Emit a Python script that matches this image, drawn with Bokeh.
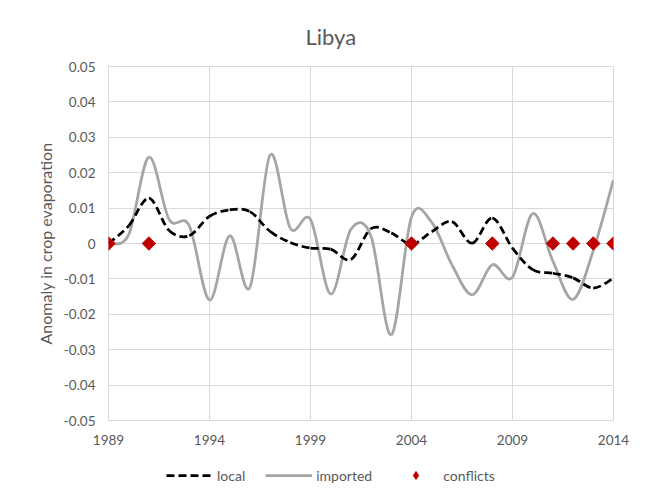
from bokeh.plotting import figure
from bokeh.layouts import column
from bokeh.models import (FixedTicker, CustomJSTickFormatter, Legend, LegendItem,
                          ColumnDataSource)
from bokeh.embed import file_html
from bokeh.resources import INLINE

# ---------------- data ----------------
years = list(range(1989, 2015))
local = [0.0, 0.005, 0.0128, 0.0037, 0.0022, 0.0077, 0.0095, 0.009, 0.0034, 0.0003,
         -0.0013, -0.0016, -0.0045, 0.0042, 0.003, -0.0002, 0.0033, 0.0062, 0.0001,
         0.0072, -0.0013, -0.0074, -0.0084, -0.0097, -0.0126, -0.0098]
imported = [0.0, 0.0025, 0.0244, 0.0068, 0.005, -0.016, 0.0022, -0.0124, 0.025, 0.0043,
            0.0068, -0.0143, 0.004, 0.002, -0.0258, 0.0075, 0.006, -0.006, -0.0145,
            -0.006, -0.0095, 0.0085, -0.005, -0.0158, -0.002, 0.018]
conflict_years = [1989, 1991, 2004, 2008, 2011, 2012, 2013, 2014]
conflict_values = [0, 0, 0, 0, 0, 0, 0, 0]
x_ticks = [1989, 1994, 1999, 2004, 2009, 2014]
y_ticks = [-0.05, -0.04, -0.03, -0.02, -0.01, 0.0, 0.01, 0.02, 0.03, 0.04, 0.05]
legend_labels = ["local", "imported", "conflicts"]

TEXT = "#595959"
FONT = "Lato"
NAN = float("nan")


def smooth_segments(xs, ys, k=1.0 / 6.0):
    """Bezier control points (Excel-like smoothed line) built from the data."""
    n = len(xs)
    d = dict(x0=[], y0=[], x1=[], y1=[], cx0=[], cy0=[], cx1=[], cy1=[])
    for i in range(n - 1):
        a = max(i - 1, 0)
        b = min(i + 2, n - 1)
        d["x0"].append(xs[i]); d["y0"].append(ys[i])
        d["x1"].append(xs[i + 1]); d["y1"].append(ys[i + 1])
        d["cx0"].append(xs[i] + (xs[i + 1] - xs[a]) * k)
        d["cy0"].append(ys[i] + (ys[i + 1] - ys[a]) * k)
        d["cx1"].append(xs[i + 1] - (xs[b] - xs[i]) * k)
        d["cy1"].append(ys[i + 1] - (ys[b] - ys[i]) * k)
    return ColumnDataSource(d)


p = figure(width=640, height=456, x_range=(1989, 2014), y_range=(-0.05, 0.05),
           output_backend="svg", toolbar_location=None,
           min_border_left=108, min_border_right=27, min_border_top=66,
           min_border_bottom=36)

p.background_fill_color = "white"
p.border_fill_color = "white"
p.outline_line_color = "#d9d9d9"

# title
p.title.text = "Libya"
p.title.align = "left"
p.title.offset = 197
p.title.text_font = FONT
p.title.text_font_size = "22px"
p.title.text_font_style = "normal"
p.title.text_color = TEXT
p.title.standoff = 33

# axes
p.xaxis.ticker = FixedTicker(ticks=x_ticks)
p.yaxis.ticker = FixedTicker(ticks=y_ticks)
p.yaxis.formatter = CustomJSTickFormatter(
    code="return Math.abs(tick) < 1e-9 ? '0' : tick.toFixed(2);")
for ax in (p.xaxis, p.yaxis):
    ax.axis_line_color = None
    ax.major_tick_line_color = None
    ax.minor_tick_line_color = None
    ax.major_tick_in = 0
    ax.major_tick_out = 0
    ax.major_label_text_font = FONT
    ax.major_label_text_font_size = "13.5px"
    ax.major_label_text_color = TEXT
p.xaxis.major_label_standoff = 14
p.yaxis.major_label_standoff = 13
p.yaxis.axis_label = "Anomaly in crop evaporation"
p.yaxis.axis_label_text_font = FONT
p.yaxis.axis_label_text_font_size = "16px"
p.yaxis.axis_label_text_font_style = "normal"
p.yaxis.axis_label_text_color = TEXT
p.yaxis.axis_label_standoff = 6

# grid
p.xgrid.ticker = FixedTicker(ticks=x_ticks)
p.ygrid.ticker = FixedTicker(ticks=y_ticks)
p.xgrid.grid_line_color = "#d9d9d9"
p.ygrid.grid_line_color = "#d9d9d9"

# smoothed lines
imp_src = smooth_segments(years, imported)
loc_src = smooth_segments(years, local)
p.bezier(x0="x0", y0="y0", x1="x1", y1="y1", cx0="cx0", cy0="cy0", cx1="cx1",
         cy1="cy1", source=imp_src, line_color="#a5a5a5", line_width=2.75)
p.bezier(x0="x0", y0="y0", x1="x1", y1="y1", cx0="cx0", cy0="cy0", cx1="cx1",
         cy1="cy1", source=loc_src, line_color="black", line_width=2.75,
         line_dash="8 4")

p.scatter(conflict_years, conflict_values, marker="square", size=9.5,
          angle=0.785398, fill_color="#c00000", line_color="#c00000")

# ---------------- legend strip ----------------
lg = figure(width=640, height=44, x_range=(0, 1), y_range=(0, 1),
            output_backend="svg", toolbar_location=None,
            x_axis_type=None, y_axis_type=None,
            min_border_left=0, min_border_right=0, min_border_top=0,
            min_border_bottom=0)
lg.outline_line_color = None
lg.background_fill_color = "white"
lg.border_fill_color = "white"
lg.xgrid.visible = False
lg.ygrid.visible = False

r_local = lg.line(x=[NAN], y=[NAN], line_color="black", line_width=2.75,
                  line_dash="8 4")
r_imp = lg.line(x=[NAN], y=[NAN], line_color="#a5a5a5", line_width=2.75)
r_conf = lg.scatter(x=[NAN], y=[NAN], marker="diamond", size=10,
                    fill_color="#c00000", line_color="#c00000")

legend = Legend(items=[LegendItem(label=legend_labels[0], renderers=[r_local]),
                       LegendItem(label=legend_labels[1], renderers=[r_imp]),
                       LegendItem(label=legend_labels[2], renderers=[r_conf])],
                orientation="horizontal", location=(58, 15),
                glyph_width=47, glyph_height=20, label_standoff=4, spacing=20,
                padding=4, margin=0, border_line_color=None,
                background_fill_alpha=0,
                label_text_font=FONT, label_text_font_size="14px",
                label_text_color=TEXT)
lg.add_layout(legend, "center")

layout = column(p, lg, spacing=0)
open("out.html", "w").write(file_html(layout, INLINE))
